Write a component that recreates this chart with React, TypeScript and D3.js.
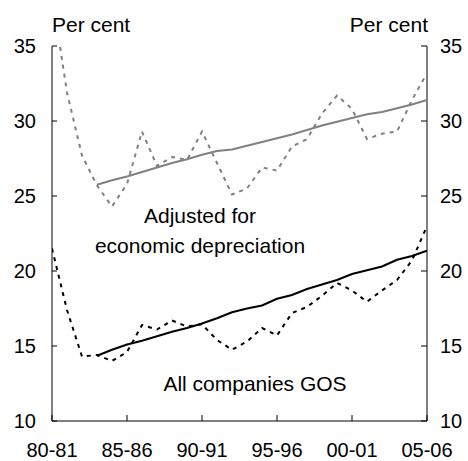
import React from "react";
import * as d3 from "d3";

const years = [
  "80-81","81-82","82-83","83-84","84-85","85-86","86-87","87-88","88-89","89-90",
  "90-91","91-92","92-93","93-94","94-95","95-96","96-97","97-98","98-99","99-00",
  "00-01","01-02","02-03","03-04","04-05","05-06",
];

const tickLabels = ["80-81", "85-86", "90-91", "95-96", "00-01", "05-06"];
const yTicks = [10, 15, 20, 25, 30, 35];

// Adjusted for economic depreciation (grey dotted) and its trend (grey solid)
const adjustedActual = [
  38.5, 31.9, 27.7, 25.7, 24.3, 25.8, 29.3, 27.0, 27.6, 27.4,
  29.3, 27.2, 25.1, 25.5, 26.9, 26.7, 28.3, 28.8, 30.5, 31.7,
  30.8, 28.8, 29.15, 29.3, 31.4, 33.2,
];
const adjustedTrend: (number | null)[] = [
  null, null, null, 25.75, 26.05, 26.3, 26.6, 26.9, 27.2, 27.45,
  27.75, 28.0, 28.1, 28.35, 28.6, 28.85, 29.1, 29.4, 29.7, 29.95,
  30.2, 30.45, 30.6, 30.85, 31.1, 31.4,
];

// All companies GOS (black dotted) and its trend (black solid)
const gosActual = [
  21.5, 17.4, 14.3, 14.4, 14.0, 14.6, 16.4, 16.1, 16.7, 16.3,
  16.45, 15.4, 14.75, 15.3, 16.2, 15.7, 17.2, 17.6, 18.35, 19.2,
  18.7, 17.95, 18.7, 19.4, 20.7, 23.0,
];
const gosTrend: (number | null)[] = [
  null, null, null, 14.35, 14.75, 15.1, 15.35, 15.65, 15.95, 16.2,
  16.5, 16.85, 17.25, 17.5, 17.7, 18.15, 18.4, 18.8, 19.1, 19.4,
  19.8, 20.05, 20.3, 20.75, 21.0, 21.35,
];

const W = 468;
const H = 461;
const left = 52;
const right = 427;
const top = 46;
const bottom = 421;
const FONT = "'Liberation Sans', Arial, Helvetica, sans-serif";
const GREY = "#808080";

export default function App() {
  const x = d3.scalePoint<string>().domain(years).range([left, right]);
  const y = d3.scaleLinear().domain([10, 35]).range([bottom, top]);

  const line = d3
    .line<number | null>()
    .defined((d) => d != null)
    .x((_, i) => x(years[i]) as number)
    .y((d) => y(d as number));

  return (
    <svg
      width={W}
      height={H}
      style={{ position: "absolute", left: 0, top: 0, background: "#fff" }}
      fontFamily={FONT}
    >
      <defs>
        <clipPath id="plot">
          <rect x={left} y={top} width={right - left} height={bottom - top} />
        </clipPath>
      </defs>

      {/* axes */}
      <line x1={left} x2={left} y1={top} y2={bottom} stroke="#000" strokeWidth={1} />
      <line x1={right} x2={right} y1={top} y2={bottom} stroke="#000" strokeWidth={1} />
      <line x1={left} x2={right} y1={bottom} y2={bottom} stroke="#000" strokeWidth={1} />

      {yTicks.map((t) => (
        <g key={t}>
          <line x1={left} x2={left + 5} y1={y(t)} y2={y(t)} stroke="#000" />
          <line x1={right - 6} x2={right} y1={y(t)} y2={y(t)} stroke="#000" />
          <text x={36} y={y(t) + 7} textAnchor="end" fontSize={20} fill="#000">
            {t}
          </text>
          <text x={440} y={y(t) + 7} textAnchor="start" fontSize={20} fill="#000">
            {t}
          </text>
        </g>
      ))}

      {tickLabels.map((t) => (
        <g key={t}>
          <line
            x1={x(t) as number}
            x2={x(t) as number}
            y1={bottom}
            y2={bottom - 6}
            stroke="#000"
          />
          <text x={x(t) as number} y={457} textAnchor="middle" fontSize={20} fill="#000">
            {t}
          </text>
        </g>
      ))}

      <text x={52} y={32} fontSize={21} fill="#000">Per cent</text>
      <text x={428} y={32} fontSize={21} textAnchor="end" fill="#000">Per cent</text>

      <g clipPath="url(#plot)" fill="none">
        <path d={line(adjustedActual) || ""} stroke={GREY} strokeWidth={2} strokeDasharray="4,5" />
        <path d={line(adjustedTrend) || ""} stroke={GREY} strokeWidth={2} />
        <path d={line(gosActual) || ""} stroke="#000" strokeWidth={2} strokeDasharray="4,5" />
        <path d={line(gosTrend) || ""} stroke="#000" strokeWidth={2} />
      </g>

      <text x={200} y={223} textAnchor="middle" fontSize={21} fill="#000">Adjusted for</text>
      <text x={200} y={253} textAnchor="middle" fontSize={21} fill="#000">economic depreciation</text>
      <text x={255} y={391} textAnchor="middle" fontSize={21} fill="#000">All companies GOS</text>
    </svg>
  );
}
